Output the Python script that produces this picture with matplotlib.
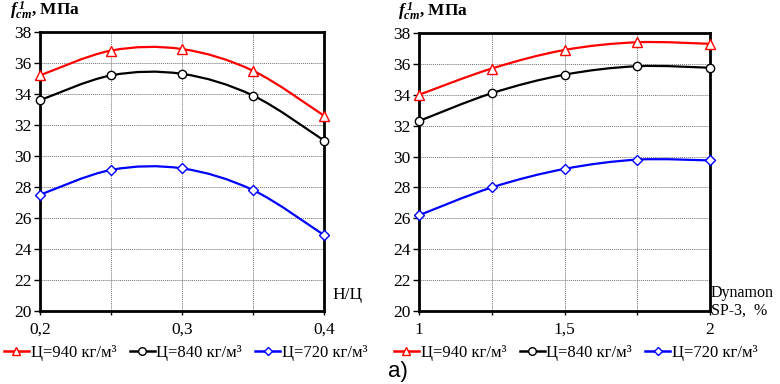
import numpy as np
import matplotlib
matplotlib.use('Agg')
import matplotlib.pyplot as plt
from matplotlib.path import Path
from matplotlib.patches import PathPatch
from matplotlib.lines import Line2D

plt.rcParams['font.family'] = ['Liberation Serif', 'DejaVu Serif']
plt.rcParams['mathtext.fontset'] = 'custom'
plt.rcParams['mathtext.rm'] = 'Liberation Serif'
plt.rcParams['mathtext.it'] = 'Liberation Serif:italic'
plt.rcParams['mathtext.bf'] = 'Liberation Serif:bold'
plt.rcParams['mathtext.bfit'] = 'Liberation Serif:bold:italic'

# left chart: water/cement ratio
wc = [0.2, 0.25, 0.3, 0.35, 0.4]
left_940 = [35.2, 36.8, 36.9, 35.5, 32.6]
left_840 = [33.6, 35.2, 35.3, 33.9, 31.0]
left_720 = [27.5, 29.1, 29.2, 27.8, 24.9]

# right chart: Dynamon SP-3 dosage
sp = [1.0, 1.25, 1.5, 1.75, 2.0]
right_940 = [34.0, 35.7, 36.9, 37.4, 37.3]
right_840 = [32.3, 34.1, 35.3, 35.85, 35.75]
right_720 = [26.2, 28.0, 29.2, 29.8, 29.75]

labels = ['Ц=940 кг/м³', 'Ц=840 кг/м³', 'Ц=720 кг/м³']
styles = [('red', '^', 6.5), ('black', 'o', 6), ('blue', 'D', 4.8)]


def smooth_path(x, y):
    # Catmull-Rom style bezier through the points (like Excel smoothed lines)
    pts = np.column_stack([x, y])
    verts = [pts[0]]
    codes = [Path.MOVETO]
    n = len(pts)
    for i in range(n - 1):
        p0 = pts[max(i - 1, 0)]
        p1 = pts[i]
        p2 = pts[i + 1]
        p3 = pts[min(i + 2, n - 1)]
        c1 = p1 + (p2 - p0) / 6
        c2 = p2 - (p3 - p1) / 6
        verts += [c1, c2, p2]
        codes += [Path.CURVE4] * 3
    return Path(verts, codes)


def draw(ax, x, series, xticks, xlabels, xlim, lab_x):
    for y, (c, m, ms) in zip(series, styles):
        ax.add_patch(PathPatch(smooth_path(x, y), fill=False, edgecolor=c,
                               lw=1.6, zorder=3))
        ax.plot(x, y, ls='none', marker=m, ms=ms, mfc='white', mec=c,
                mew=1.0, zorder=4, clip_on=False)
    ax.set_xlim(*xlim)
    ax.set_ylim(20, 38)
    ax.set_yticks(np.arange(20, 39, 2))
    ax.set_xticks(xticks)
    ax.set_xticklabels(xlabels)
    ax.grid(True, color='#707070', ls=(0, (1, 1)), lw=0.7)
    for s in ax.spines.values():
        s.set_linewidth(2)
    ax.tick_params(axis='both', labelsize=12.5, length=4, width=1,
                   direction='out', pad=2)
    ax.tick_params(axis='x', length=3, pad=5)
    ax.text(lab_x, 1.04,
            r'$\mathbfit{f}_{\mathbfit{cm}}^{\ \mathbfit{1}}$, МПа',
            transform=ax.transAxes, fontsize=12.5, fontweight='bold',
            ha='left', va='bottom')


fig = plt.figure(figsize=(7.8, 3.84), dpi=100)
ax1 = fig.add_axes([40 / 780, 73 / 384, 284 / 780, 279 / 384])
ax2 = fig.add_axes([419 / 780, 73 / 384, 291 / 780, 278 / 384])

draw(ax1, wc, [left_940, left_840, left_720],
     [0.2, 0.25, 0.3, 0.35, 0.4], ['0,2', '', '0,3', '', '0,4'], (0.2, 0.4),
     -0.105)
draw(ax2, sp, [right_940, right_840, right_720],
     [1.0, 1.25, 1.5, 1.75, 2.0], ['1', '', '1,5', '', '2'], (1.0, 2.0),
     -0.072)

ax1.text(1.03, 0.03, 'Н/Ц', transform=ax1.transAxes, fontsize=12.5,
         ha='left', va='bottom')
ax2.text(1.003, 0.095, 'Dynamon\nSP-3,  %', transform=ax2.transAxes,
         fontsize=11.5, ha='left', va='top', linespacing=1.2)

handles = [Line2D([], [], color=c, marker=m, ms=ms - 0.5, mfc='white', mec=c,
                  lw=1.8) for c, m, ms in styles]
for x0 in (0.005, 0.505):
    fig.legend(handles, labels, loc='center left', bbox_to_anchor=(x0, 0.08),
               ncol=3, frameon=False, fontsize=12, handlelength=1.5,
               handletextpad=0.1, columnspacing=0.8, borderaxespad=0,
               borderpad=0)

fig.text(388 / 780, 1 - 372 / 384, 'a)', family='Liberation Sans',
         fontsize=16, ha='left', va='center')

fig.savefig('out.png', dpi=100)
